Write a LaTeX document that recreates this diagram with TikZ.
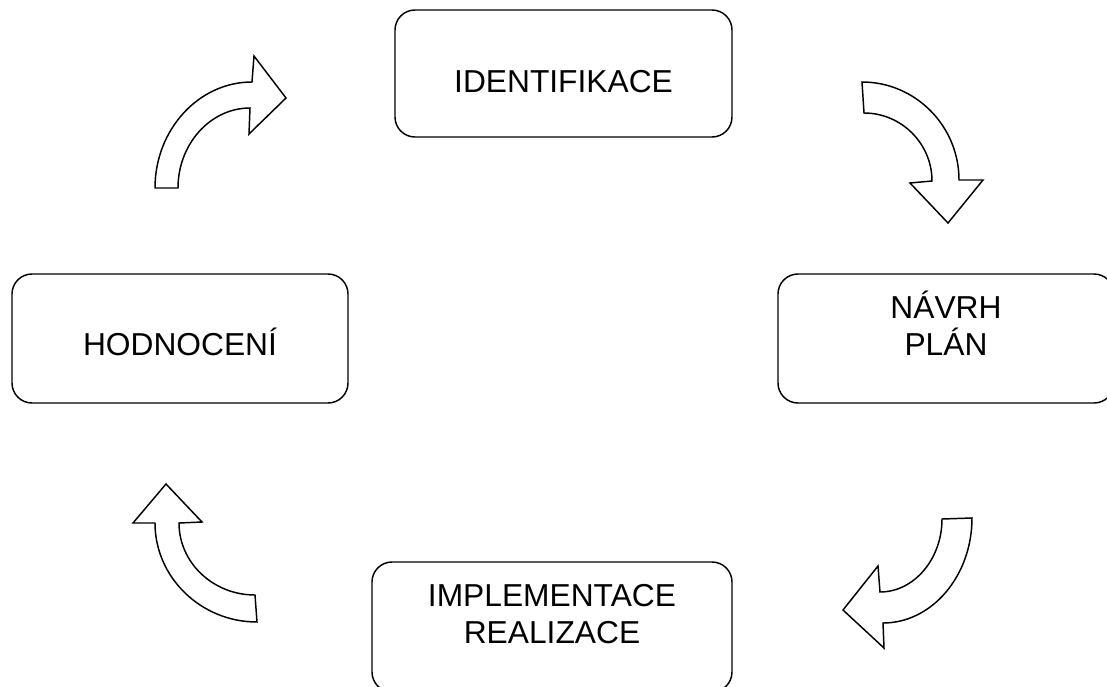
\documentclass[tikz,border=0pt]{standalone}
\usepackage{fontspec}
\setmainfont{Liberation Sans}
\begin{document}
\begin{tikzpicture}[x=0.75pt,y=-0.75pt,
  box/.style={draw, line width=1.1pt, rounded corners=15pt, align=center,
    inner sep=0pt, font=\fontsize{23.8pt}{27.5pt}\selectfont, text depth=0pt},
  blockarrow/.style={draw, fill=white, line width=1.1pt, line join=miter}]
\useasboundingbox (0,0) rectangle (1107,686);
\clip (0,0) rectangle (1107,686);

\node[box, minimum width=252.75pt, minimum height=95.25pt, text height=27.75pt] (idf) at (563.5,73.5) {IDENTIFIKACE};
\node[box, minimum width=252pt, minimum height=96.75pt, text height=24.75pt] (navrh) at (946,338.5) {NÁVRH\\PLÁN};
\node[box, minimum width=252pt, minimum height=96.75pt, text height=24.75pt] (hod) at (180,338.5) {HODNOCENÍ};
\node[box, minimum width=270pt, minimum height=97.5pt, text height=24pt] (impl) at (552,627) {IMPLEMENTACE\\REALIZACE};

% top-left arrow
\draw[blockarrow] (155,188) .. controls (155,129.7) and (198.6,82) .. (252,82)
  -- (254,56) -- (286,98) -- (249,134) -- (250,108)
  .. controls (210.4,108) and (178,144) .. (178,188) -- cycle;
% top-right arrow
\draw[blockarrow] (862,82) .. controls (915.4,82) and (959,126) .. (959,180)
  -- (983,180) -- (948,223) -- (910,183) -- (932,181)
  .. controls (932,143.6) and (901.4,113) .. (864,113) -- cycle;
% bottom-right arrow
\draw[blockarrow] (942,519) .. controls (942,559) and (914,592) .. (880,592)
  -- (878,566) -- (843,610) -- (884,648) -- (883,623)
  .. controls (932,623) and (972,575.8) .. (972,518) -- cycle;
% bottom-left arrow
\draw[blockarrow] (257,622) .. controls (201,622) and (155,577.5) .. (155,523)
  -- (133,523) -- (166,484) -- (202,522) -- (179,523)
  .. controls (179,562.6) and (213,595) .. (255,595) -- cycle;
\end{tikzpicture}
\end{document}
